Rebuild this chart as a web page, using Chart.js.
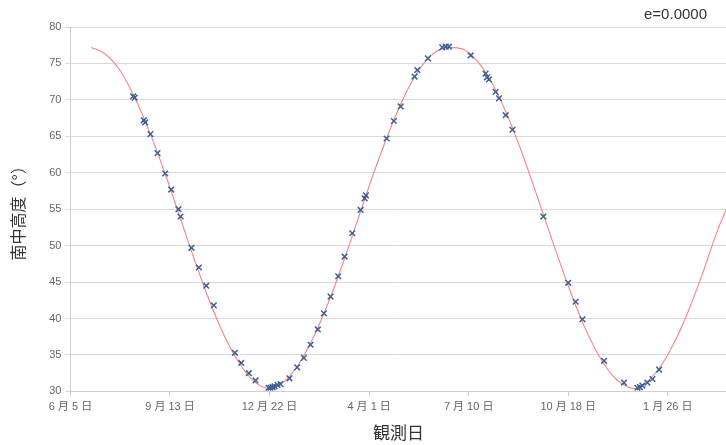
<!DOCTYPE html>
<html>
<head>
<meta charset="utf-8">
<script src="https://cdn.jsdelivr.net/npm/chart.js@4/dist/chart.umd.min.js"></script>
<style>
  html, body { margin: 0; padding: 0; background: #fff; overflow: hidden; }
  #wrap { width: 726px; height: 445px; overflow: hidden; }
</style>
</head>
<body>
<div id="wrap"><canvas id="chart" width="732" height="445"></canvas></div>
<script>
// ============================================================
// Data (x = days since 6/5)
// ============================================================
const tickDays = [0, 100, 200, 300, 400, 500, 600];
const tickLabels = ['6 月 5 日', '9 月 13 日', '12 月 22 日', '4 月 1 日', '7 月 10 日', '10 月 18 日', '1 月 26 日'];

// model curve
const curveDays = [21, 35, 50, 65, 80, 95, 110, 125, 140, 155, 170, 185, 200,
  215, 230, 245, 260, 275, 290, 305, 320, 335, 350, 365, 380,
  395, 410, 425, 440, 455, 470, 485, 500, 515, 530, 545, 560, 567,
  575, 590, 605, 620, 635, 650, 659];
const curveAlt = [77.2, 76.3, 74.0, 70.2, 65.4, 59.9, 53.9, 47.9, 42.3, 37.5, 33.8, 31.3, 30.4,
  31.4, 33.9, 37.7, 42.5, 48.1, 54.1, 60.1, 65.6, 70.4, 74.1, 76.4, 77.2,
  76.9, 75.1, 71.9, 67.5, 62.2, 56.3, 50.3, 44.5, 39.3, 35.1, 32.1, 30.6, 30.4,
  30.9, 32.9, 36.3, 40.8, 46.2, 52.1, 55.0];

// observations (blue crosses)
const obsDays = [63, 64.5, 73.7, 75, 80.4, 87.5, 95.2, 101.2, 108.5, 110.6, 121.6, 129, 136.4, 144,
  165.2, 171.6, 179.2, 185.9, 199, 201, 203, 205, 208, 211, 220,
  227.8, 234.5, 241.2, 248.5, 254.6, 261.3, 269, 275.4, 283.1, 291.5, 295.5, 296.8,
  317.6, 324.9, 331.7, 345.7, 348.4, 359.1, 373.5, 377, 380.2,
  402, 417, 418.5, 420.4, 427.1, 430.5, 437.2, 444, 475, 500, 507.5, 514.3,
  536, 556, 569.5, 572, 574.5, 579.5, 584.6, 591.3];
const obsAlt = [70.5, 70.3, 67.2, 66.9, 65.3, 62.7, 59.9, 57.7, 55.0, 54.0, 49.7, 47.0, 44.5, 41.8,
  35.3, 33.9, 32.5, 31.5, 30.5, 30.5, 30.6, 30.7, 30.9, 31.0, 31.8,
  33.3, 34.6, 36.4, 38.5, 40.7, 43.0, 45.8, 48.5, 51.7, 54.9, 56.5, 56.9,
  64.7, 67.1, 69.1, 73.2, 74.1, 75.7, 77.2, 77.3, 77.3,
  76.1, 73.6, 73.1, 72.8, 71.1, 70.2, 67.9, 65.9, 54.0, 44.9, 42.3, 39.9,
  34.2, 31.2, 30.5, 30.6, 30.8, 31.2, 31.7, 33.0];

const eccLabel = 'e=0.0000';

// ============================================================
// Chart
// ============================================================
const FONT = "'Liberation Sans', 'Noto Sans CJK JP', sans-serif";

const cornerLabel = {
  id: 'cornerLabel',
  afterDraw(chart) {
    const ctx = chart.ctx;
    ctx.save();
    ctx.font = '15px ' + FONT;
    ctx.fillStyle = '#333';
    ctx.textAlign = 'right';
    ctx.textBaseline = 'middle';
    ctx.fillText(eccLabel, 707, 15);
    ctx.restore();
  }
};

const ctx = document.getElementById('chart').getContext('2d');
new Chart(ctx, {
  type: 'scatter',
  data: {
    datasets: [
      {
        label: 'obs',
        data: obsDays.map((d, i) => ({ x: d, y: obsAlt[i] })),
        pointStyle: 'crossRot',
        pointRadius: 4,
        borderColor: '#3d5f94',
        borderWidth: 1.5,
        showLine: false,
      },
      {
        label: 'model',
        data: curveDays.map((d, i) => ({ x: d, y: curveAlt[i] })),
        showLine: true,
        borderColor: '#f58585',
        borderWidth: 1.1,
        pointRadius: 0,
        cubicInterpolationMode: 'monotone',
        fill: false,
      },
    ],
  },
  options: {
    responsive: false,
    animation: false,
    layout: { padding: { left: 10, top: 27, right: 0, bottom: 0 } },
    plugins: {
      legend: { display: false },
      tooltip: { enabled: false },
    },
    scales: {
      x: {
        type: 'linear',
        min: 0,
        max: 659,
        afterBuildTicks: axis => { axis.ticks = tickDays.map(v => ({ value: v })); },
        ticks: {
          color: '#666',
          font: { size: 11, family: FONT },
          maxRotation: 0,
          padding: 4,
          callback: val => tickLabels[tickDays.indexOf(val)] ?? '',
        },
        grid: { drawOnChartArea: false, drawTicks: true, tickLength: 5, color: '#cfcfcf' },
        border: { color: '#cfcfcf' },
        title: {
          display: true,
          text: '観測日',
          color: '#333',
          font: { size: 17, family: FONT },
          padding: { top: 7, bottom: 0 },
        },
      },
      y: {
        min: 30,
        max: 80,
        ticks: {
          stepSize: 5,
          color: '#666',
          font: { size: 11, family: FONT },
          padding: 4,
        },
        grid: { color: '#dadada', tickLength: 5 },
        border: { color: '#cfcfcf' },
        title: {
          display: true,
          text: '南中高度（°）',
          color: '#333',
          font: { size: 16, family: FONT },
          padding: { top: 0, bottom: 16 },
        },
      },
    },
  },
  plugins: [cornerLabel],
});
</script>
</body>
</html>
